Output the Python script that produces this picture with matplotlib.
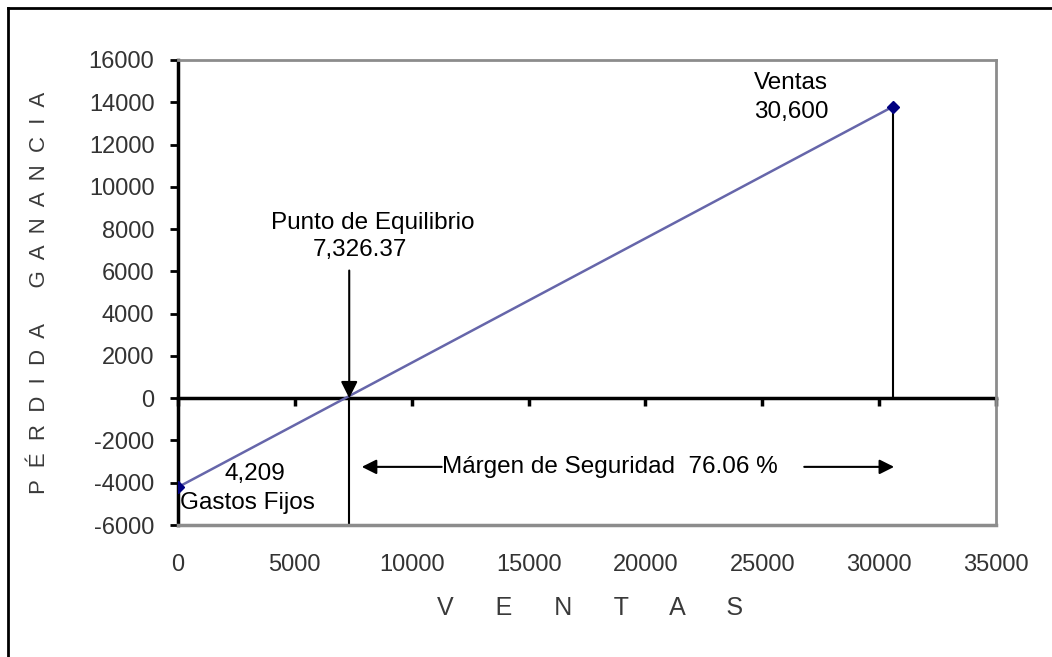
import matplotlib
matplotlib.use("Agg")
import matplotlib.pyplot as plt
from matplotlib.lines import Line2D

plt.rcParams['font.family'] = ['Liberation Sans', 'DejaVu Sans']
plt.rcParams['axes.unicode_minus'] = False

# datos del punto de equilibrio
ventas = [0, 30600]
resultado = [-4209, 13800]
gastos_fijos = 4209
punto_equilibrio = 7326.37
margen_seguridad = 76.06

x_ticks = [0, 5000, 10000, 15000, 20000, 25000, 30000, 35000]
y_ticks = [-6000, -4000, -2000, 0, 2000, 4000, 6000, 8000, 10000, 12000, 14000, 16000]

fig = plt.figure(figsize=(10.52, 6.57), dpi=100)
ax = fig.add_axes([178 / 1052, 1 - 525 / 657, 818 / 1052, 465 / 657])
ax.set_xlim(0, 35000)
ax.set_ylim(-6000, 16000)

# recta de resultados
ax.plot(ventas, resultado, color='#6666aa', lw=1.8, zorder=3)
ax.plot(ventas, resultado, ls='none', marker='D', ms=6, color='#000080', zorder=4)

# lineas verticales
ax.plot([punto_equilibrio, punto_equilibrio], [-6000, 0], color='black', lw=1.5)
ax.plot([ventas[1], ventas[1]], [0, resultado[1]], color='black', lw=1.5)

# eje en cero con marcas hacia abajo
zero_ax = ax.secondary_xaxis(6000 / 22000)
zero_ax.set_xticks(x_ticks)
zero_ax.tick_params(labelbottom=False, length=6, width=2.5, direction='out', color='black')
zero_ax.spines['bottom'].set_linewidth(2.5)
zero_ax.spines['bottom'].set_color('black')

ax.set_xticks(x_ticks)
ax.set_yticks(y_ticks)
ax.tick_params(axis='x', length=0, pad=21, labelsize=17, labelcolor='#333333')
ax.tick_params(axis='y', length=6, width=2, direction='out', pad=11,
               labelsize=17, labelcolor='#333333')

for side in ['top', 'right']:
    ax.spines[side].set_color('#8c8c8c')
    ax.spines[side].set_linewidth(2)
ax.spines['bottom'].set_color('#8c8c8c')
ax.spines['bottom'].set_linewidth(2.5)
ax.spines['left'].set_color('black')
ax.spines['left'].set_linewidth(2.5)

ax.set_xlabel('V      E      N      T      A      S', fontsize=18, color='#3a3a3a', va='center')
ax.xaxis.set_label_coords(0.5037, -(608 - 525) / 465)
ax.set_ylabel('P  É  R  D  I  D  A      G  A  N  A  N  C  I  A', fontsize=16,
              color='#3a3a3a', va='center', ha='center')
ax.yaxis.set_label_coords(-(178 - 40) / 818, 0.5)

fs = 17.5

# anotaciones
ax.annotate('', xy=(punto_equilibrio, 0), xytext=(punto_equilibrio, 6040),
            arrowprops=dict(arrowstyle='-|>', color='black', lw=1.5,
                            mutation_scale=25, shrinkA=0, shrinkB=0))
ax.text(8333, 8270, 'Punto de Equilibrio', fontsize=fs, ha='center', va='center')
ax.text(7778, 6990, '{:,.2f}'.format(punto_equilibrio), fontsize=fs, ha='center', va='center')

ax.text(24658, 14905, 'Ventas', fontsize=fs, ha='left', va='center')
ax.text(24658, 13531, '{:,}'.format(ventas[1]), fontsize=fs, ha='left', va='center')

ax.text(3291, -3578, '{:,}'.format(gastos_fijos), fontsize=fs, ha='center', va='center')
ax.text(85, -4953, 'Gastos Fijos', fontsize=fs, ha='left', va='center')

y_m = -3250
ax.annotate('', xy=(7863, y_m), xytext=(11282, y_m),
            arrowprops=dict(arrowstyle='-|>', color='black', lw=1.5,
                            mutation_scale=22, shrinkA=0, shrinkB=0))
ax.text(11282, y_m, 'Márgen de Seguridad  {:.2f} %'.format(margen_seguridad),
        fontsize=fs, ha='left', va='center')
ax.annotate('', xy=(30641, y_m), xytext=(26795, y_m),
            arrowprops=dict(arrowstyle='-|>', color='black', lw=1.5,
                            mutation_scale=22, shrinkA=0, shrinkB=0))

# marco exterior
fig.add_artist(Line2D([8 / 1052, 8 / 1052], [0, 1 - 8 / 657], transform=fig.transFigure,
                      color='black', lw=2))
fig.add_artist(Line2D([8 / 1052, 1], [1 - 8 / 657, 1 - 8 / 657], transform=fig.transFigure,
                      color='black', lw=2))

fig.savefig('out.png', dpi=100)
